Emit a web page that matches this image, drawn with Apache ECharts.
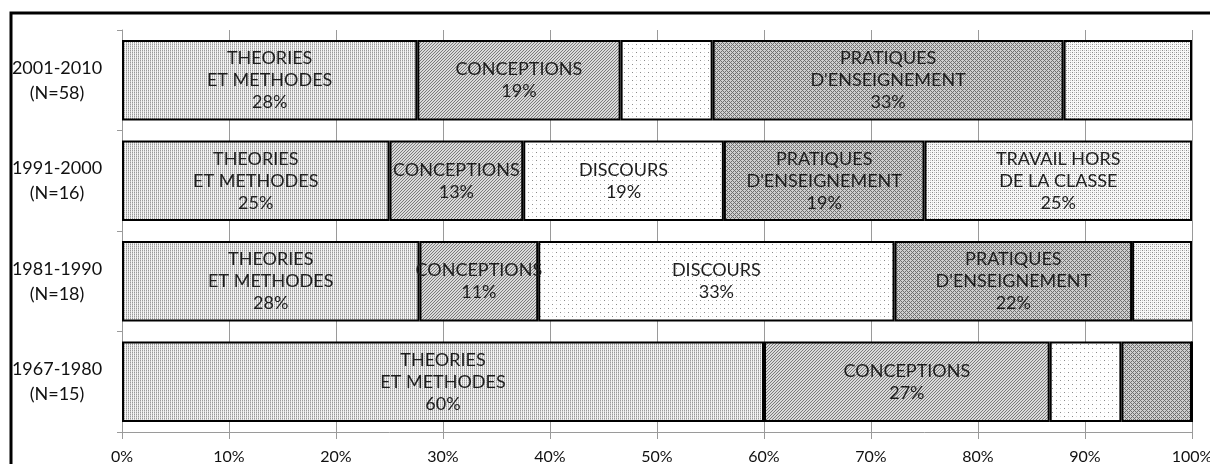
<!DOCTYPE html>
<html>
<head>
<meta charset="utf-8">
<script src="https://cdn.jsdelivr.net/npm/echarts@6/dist/echarts.min.js"></script>
<style>
  html, body { margin: 0; padding: 0; background: #fff; }
  #chart { width: 1210px; height: 464px; }
</style>
</head>
<body>
<div id="chart"></div>
<script>
// periods, top to bottom
const periods = ['2001-2010\n(N=58)', '1991-2000\n(N=16)', '1981-1990\n(N=18)', '1967-1980\n(N=15)']

// shares in %, one array per theme
const theories = [27.6, 25, 27.8, 60]
const conceptions = [19.0, 12.5, 11.1, 26.7]
const discours = [8.6, 18.75, 33.3, 6.7]
const pratiques = [32.8, 18.75, 22.2, 6.6]
const travail = [12.0, 25, 5.6, 0]

// which segments carry a text label
const theoriesShown = [true, true, true, true]
const conceptionsShown = [true, true, true, true]
const discoursShown = [false, true, true, false]
const pratiquesShown = [true, true, true, false]
const travailShown = [false, true, false, false]

const xTicks = [0, 10, 20, 30, 40, 50, 60, 70, 80, 90, 100]

const FONT = 'Lato, "Open Sans", sans-serif'

// small pixel tiles used as fills
const makeTile = (w, h, bg, pixel) => {
  const c = document.createElement('canvas')
  c.width = w
  c.height = h
  const ctx = c.getContext('2d')
  ctx.fillStyle = bg
  ctx.fillRect(0, 0, w, h)
  for (let y = 0; y < h; y++) {
    for (let x = 0; x < w; x++) {
      const col = pixel(x, y)
      if (col) {
        ctx.fillStyle = col
        ctx.fillRect(x, y, 1, 1)
      }
    }
  }
  return { image: c, repeat: 'repeat' }
}

const fills = {
  theories: makeTile(4, 4, '#f4f4f4', (x, y) => (x % 2 === 0 ? (y % 2 === 0 ? '#9a9a9a' : '#c8c8c8') : null)),
  conceptions: makeTile(3, 3, '#dadada', (x, y) => ((x + y) % 3 === 0 ? '#7a7a7a' : null)),
  discours: makeTile(8, 8, '#ffffff', (x, y) => {
    if ((x === 0 && y === 0) || (x === 4 && y === 4)) return '#8a8a8a'
    if ((x === 4 && y === 0) || (x === 0 && y === 4)) return '#dadada'
    return null
  }),
  pratiques: makeTile(4, 4, '#cfcfcf', (x, y) => (((x + y) % 4 === 0 || (x - y + 4) % 4 === 0) ? '#707070' : null)),
  travail: makeTile(4, 4, '#f8f8f8', (x, y) => {
    if ((x === 0 && y === 0) || (x === 2 && y === 2)) return '#8c8c8c'
    if ((x === 2 && y === 0) || (x === 0 && y === 2)) return '#c4c4c4'
    return null
  })
}

const themes = [
  { key: 'theories', title: 'THEORIES\nET METHODES', values: theories, shown: theoriesShown },
  { key: 'conceptions', title: 'CONCEPTIONS', values: conceptions, shown: conceptionsShown },
  { key: 'discours', title: 'DISCOURS', values: discours, shown: discoursShown },
  { key: 'pratiques', title: "PRATIQUES\nD'ENSEIGNEMENT", values: pratiques, shown: pratiquesShown },
  { key: 'travail', title: 'TRAVAIL HORS\nDE LA CLASSE', values: travail, shown: travailShown }
]

const chart = echarts.init(document.getElementById('chart'), null, { renderer: 'canvas' })

const series = themes.map(t => ({
  name: t.key,
  type: 'bar',
  stack: 'total',
  barWidth: '80%',
  data: t.values.map((v, i) => ({
    value: v,
    label: { show: t.shown[i] }
  })),
  itemStyle: {
    color: fills[t.key],
    borderColor: '#000',
    borderWidth: 2
  },
  label: {
    position: 'inside',
    color: '#1e1e1e',
    fontSize: 18,
    lineHeight: 22,
    fontFamily: FONT,
    align: 'center',
    formatter: (p) => t.title + '\n' + Math.round(p.value) + '%'
  },
  emphasis: { disabled: true }
}))

const option = {
  animation: false,
  backgroundColor: '#fff',
  graphic: [{
    type: 'rect',
    shape: { x: 11, y: 13, width: 1300, height: 600 },
    style: { fill: 'none', stroke: '#000', lineWidth: 3 },
    silent: true
  }],
  grid: { left: 122, right: 18, top: 30, bottom: 32, outerBoundsMode: 'none', containLabel: false },
  xAxis: {
    type: 'value',
    min: 0,
    max: 100,
    interval: 10,
    axisLine: { show: true, lineStyle: { color: '#9a9a9a', width: 1 } },
    axisTick: { show: true, length: 7, lineStyle: { color: '#9a9a9a' } },
    splitLine: { show: true, lineStyle: { color: '#9a9a9a', width: 1 } },
    axisLabel: {
      color: '#111',
      fontSize: 16,
      fontFamily: FONT,
      margin: 17,
      hideOverlap: false,
      formatter: (v) => (xTicks.includes(v) ? v + '%' : '')
    }
  },
  yAxis: {
    type: 'category',
    inverse: true,
    data: periods,
    axisLine: { show: true, lineStyle: { color: '#9a9a9a', width: 1 } },
    axisTick: { show: true, length: 5, lineStyle: { color: '#9a9a9a' } },
    axisLabel: {
      color: '#111',
      fontSize: 18,
      lineHeight: 25,
      fontFamily: FONT,
      align: 'center',
      margin: 65
    }
  },
  series
}

chart.setOption(option)
</script>
</body>
</html>
